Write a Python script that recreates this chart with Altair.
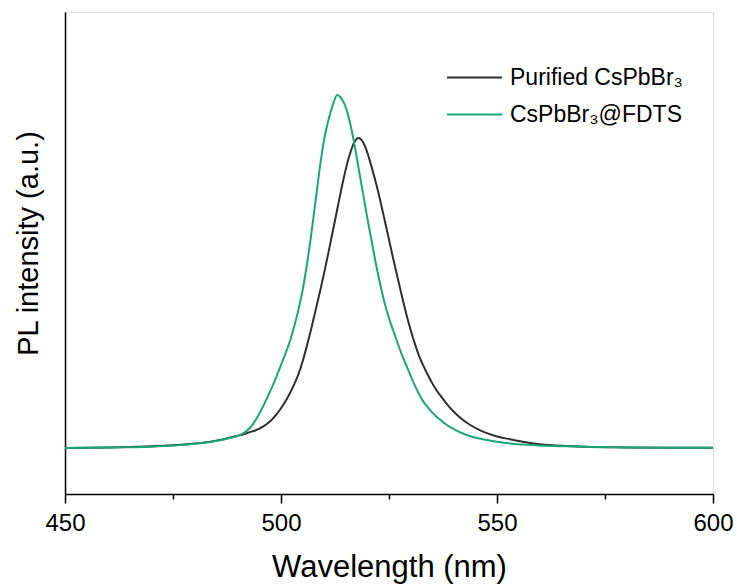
import altair as alt
import pandas as pd

wavelength = [450, 460, 470, 475, 480, 484, 487, 489, 490, 491, 492, 493, 494, 495, 496, 497,
              498, 499, 500, 501, 502, 503, 504, 505, 506, 507, 508, 509, 510, 511, 512, 513,
              514, 515, 516, 517, 518, 519, 520, 521, 522, 523, 524, 525, 526, 527, 528, 529,
              530, 531, 532, 533, 534, 535, 536, 537, 538, 539, 540, 542, 544, 546, 548, 550,
              553, 556, 560, 566, 570, 580, 590, 600]

purified = [0.000, 0.002, 0.005, 0.008, 0.013, 0.019, 0.026, 0.032, 0.035, 0.038, 0.042, 0.046,
            0.050, 0.055, 0.062, 0.071, 0.082, 0.096, 0.113, 0.132, 0.154, 0.179, 0.208, 0.245,
            0.290, 0.338, 0.390, 0.442, 0.497, 0.555, 0.615, 0.675, 0.735, 0.790, 0.835, 0.867,
            0.878, 0.866, 0.836, 0.795, 0.750, 0.700, 0.645, 0.590, 0.535, 0.482, 0.430, 0.380,
            0.335, 0.295, 0.260, 0.232, 0.207, 0.184, 0.164, 0.147, 0.131, 0.116, 0.103, 0.081,
            0.064, 0.051, 0.041, 0.033, 0.025, 0.018, 0.011, 0.006, 0.004, 0.002, 0.001, 0.001]

fdts = [0.000, 0.002, 0.004, 0.007, 0.012, 0.018, 0.025, 0.031, 0.035, 0.040, 0.048, 0.060,
        0.077, 0.098, 0.122, 0.148, 0.175, 0.204, 0.235, 0.267, 0.300, 0.342, 0.390, 0.447,
        0.520, 0.605, 0.700, 0.795, 0.875, 0.930, 0.972, 1.000, 0.990, 0.965, 0.920, 0.860,
        0.790, 0.720, 0.650, 0.585, 0.520, 0.462, 0.410, 0.368, 0.332, 0.297, 0.264, 0.234,
        0.205, 0.177, 0.152, 0.131, 0.115, 0.101, 0.089, 0.079, 0.069, 0.061, 0.054, 0.042,
        0.033, 0.027, 0.022, 0.018, 0.013, 0.010, 0.007, 0.005, 0.004, 0.002, 0.001, 0.001]

series_names = ["Purified CsPbBr₃", "CsPbBr₃@FDTS"]
series_colors = ["#2f2f2f", "#1aa776"]
x_ticks = [450, 475, 500, 525, 550, 575, 600]

rows = []
for name, vals in zip(series_names, [purified, fdts]):
    for w, v in zip(wavelength, vals):
        rows.append({"wl": w, "I": v, "series": name})
df = pd.DataFrame(rows)

FONT = "Liberation Sans"

chart = alt.Chart(df).mark_line(strokeWidth=2, interpolate="monotone").encode(
    x=alt.X("wl:Q",
            scale=alt.Scale(domain=[450, 600], nice=False, zero=False),
            axis=alt.Axis(values=x_ticks,
                          labelExpr="datum.value % 50 === 0 ? datum.label : ''",
                          tickSize={"condition": {"test": "datum.value % 50 !== 0", "value": 5}, "value": 9},
                          tickColor="#000", tickWidth=1.5, domainColor="#000", domainWidth=1.5,
                          labelFontSize=24, labelFont=FONT, labelColor="#000",
                          labelBaseline="alphabetic", labelPadding=27,
                          labelFlush=False, labelOverlap=False,
                          grid=False,
                          title="Wavelength (nm)", titleFontSize=31, titleFont=FONT,
                          titleFontWeight="normal", titleColor="#000",
                          titleBaseline="alphabetic", titleY=82, titleX=324, titleAlign="center")),
    y=alt.Y("I:Q",
            scale=alt.Scale(domain=[-0.13, 1.235], nice=False, zero=False),
            axis=alt.Axis(labels=False, ticks=False, grid=False, domainColor="#000", domainWidth=1.5,
                          title="PL intensity (a.u.)", titleFontSize=29, titleFont=FONT,
                          titleFontWeight="normal", titleColor="#000",
                          titleAngle=-90, titleBaseline="middle", titleAlign="center",
                          titleX=-37, titleY=231)),
    color=alt.Color("series:N",
                    scale=alt.Scale(domain=series_names, range=series_colors),
                    legend=alt.Legend(title=None, orient="none", legendX=381, legendY=47,
                                      symbolType="stroke", symbolSize=3025, symbolStrokeWidth=2,
                                      labelFontSize=23, labelFont=FONT, labelColor="#000",
                                      labelOffset=7, rowPadding=0, clipHeight=37, labelLimit=400)),
    order=alt.Order("wl:Q"),
).properties(
    width=648, height=482,
    padding={"left": 65, "top": 12, "right": 24, "bottom": 92},
    autosize=alt.AutoSizeParams(type="none"),
).configure_view(stroke="#000", strokeWidth=1.5).configure(background="white")

chart.save("out.html", embed_options={"renderer": "svg", "actions": False})
